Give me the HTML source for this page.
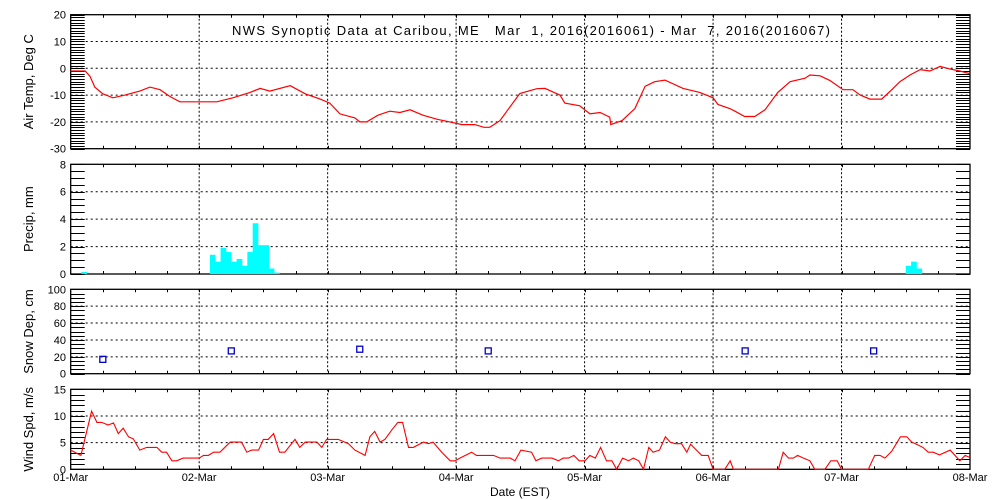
<!DOCTYPE html>
<html><head><meta charset="utf-8">
<style>
html,body{margin:0;padding:0;background:#fff;}
svg{display:block;font-family:"Liberation Sans",sans-serif;}
</style></head>
<body>
<svg id="chart" width="1000" height="500" viewBox="0 0 1000 500">
<text x="232" y="35" font-size="13" style="white-space:pre" xml:space="preserve" textLength="598" lengthAdjust="spacing">NWS Synoptic Data at Caribou, ME   Mar  1, 2016(2016061) - Mar  7, 2016(2016067)</text>
<text x="520" y="496" text-anchor="middle" font-size="12">Date (EST)</text>
</svg>
<script>
// Data (time in hours since 01-Mar 00:00 EST)
const dayLabels = ["01-Mar","02-Mar","03-Mar","04-Mar","05-Mar","06-Mar","07-Mar","08-Mar"];
const tempHours = [0,2.7,3.6,4.5,6,7.9,10.1,12.9,14.8,16.7,18.5,20.4,23.2,27.3,30.3,33.5,35.4,37.2,41,43.8,46.6,48.4,50.3,53.1,54,55.3,57.4,59.6,61.5,63.4,65.8,68.4,70.8,73.1,75.5,77.2,78.3,80.2,83.9,87.1,88.6,91.4,92.3,95.1,97,98.9,100.7,100.9,103,105.4,107.3,109.1,111,114.4,117.5,120,120.9,123.1,124.1,125.9,127.8,129.7,132.1,134.4,137.2,138.1,140,141.8,144.3,146.1,147.5,149.3,151.5,153.4,154.9,156.8,158.7,160.5,162.4,164.3,166.1,168];
const tempValues = [-1,-1,-3,-7,-9.5,-11,-10,-8.5,-7,-8,-10.5,-12.5,-12.5,-12.5,-11,-9,-7.5,-8.5,-6.5,-9.5,-11.5,-13,-17,-18.5,-20,-20,-17.5,-16,-16.5,-15.5,-17.5,-19,-20,-21,-21,-22,-22,-19.5,-9.4,-7.6,-7.5,-10,-13,-14,-17,-16.5,-18.2,-21,-19.5,-15,-6.7,-5,-4.4,-7.5,-9,-11,-13.5,-15,-16,-18,-18,-15.5,-9,-5,-3.7,-2.5,-2.8,-4.5,-8,-8,-10,-11.5,-11.5,-8,-5,-2.5,-0.5,-1,0.7,-0.3,-1,-2];
const precipHours = [2,26,27,28,29,30,31,32,33,34,35,36,37,38,156,157,158];
const precipValues = [0.15,1.4,0.9,1.9,1.6,0.9,1.1,0.6,1.6,3.7,2.1,2.1,0.4,0.1,0.6,0.9,0.4];
const snowHours = [6,30,54,78,126,150];
const snowValues = [17,27,29,27,27,27];
const windHours = [0,1.9,3.9,4.9,5.8,7,8,8.9,9.8,10.8,11.7,12.9,14.2,16.1,17,17.9,18.9,19.8,21,24,24.8,25.7,26.7,27.9,29.8,31.9,32.9,33.8,35.1,36,36.9,37.9,39,40,41.9,42.8,43.8,46,46.9,47.8,50,51.9,53.1,55,55.9,56.8,57.8,58.7,60,61.1,62,63.1,64,65.9,66.8,67.7,69.3,70.9,71.8,72.7,74.9,75.8,79,80.2,82.1,83,84.1,86.1,86.9,88,89.9,91.1,92,93,94,95,96.1,97,98,99,100.1,101.1,102,103.1,104.2,105.1,106.1,107,108,108.8,110,111.1,112,112.9,114.1,115.1,115.8,116.9,117.9,119.1,120,122.2,123.2,123.8,132.2,133.1,134.1,135,135.8,136.9,138.1,139,140.9,142,143.2,144,149,150.2,151.2,152.1,153.4,155,156.2,157.1,158,159.2,160.2,161.1,162.3,164.3,166.1,167.1,168];
const windValues = [3.6,2.6,10.9,8.8,8.8,8.3,8.7,6.7,7.7,6.1,5.7,3.6,4.1,4.1,3.2,3.2,1.6,1.6,2.1,2.1,2.6,2.6,3.2,3.2,5.1,5.1,3.2,3.6,3.6,5.6,5.6,6.7,3.2,3.2,5.6,4.1,5.1,5.1,4.1,5.6,5.6,4.8,3.6,2.6,6.1,7.1,5.1,5.6,7.4,8.8,8.8,4.1,4.1,5.1,4.8,5.1,3.2,1.6,1.6,2.1,3.2,2.6,2.6,2.1,2.1,1.6,3.6,3.2,1.6,2.1,2.1,1.6,2.1,2.1,2.6,1.6,1.6,2.6,2.1,4.1,1.6,1.6,0,2.1,1.6,2.1,1.6,0,4.1,3.2,3.6,6.1,5.1,4.8,4.8,3.2,4.7,3.6,2.6,2.6,0,0,1.6,0,0,3.2,2.1,2.1,2.6,2.1,1.6,0,0,1.6,1.6,0,0,2.6,2.6,2.1,3.4,6.1,6.1,5.1,4.7,4.1,3.2,3.2,2.7,3.6,1.6,2.6,2.2];

const NS="http://www.w3.org/2000/svg";
const svg=document.getElementById('chart');
const X0=70.7, X1=970;
function xScale(h){return X0+(X1-X0)*h/168;}
function mk(tag,attrs,parent){const e=document.createElementNS(NS,tag);for(const k in attrs)e.setAttribute(k,attrs[k]);(parent||svg).appendChild(e);return e;}

const panels=[
 {key:"temp",top:14.7,bot:148.7,min:-30,max:20,major:10,minor:1,label:"Air Temp, Deg C",ticks:[-30,-20,-10,0,10,20]},
 {key:"precip",top:164.3,bot:274,min:0,max:8,major:2,minor:0.5,label:"Precip, mm",ticks:[0,2,4,6,8]},
 {key:"snow",top:289.3,bot:373.7,min:0,max:100,major:20,minor:5,label:"Snow Dep, cm",ticks:[0,20,40,60,80,100]},
 {key:"wind",top:389.3,bot:469.3,min:0,max:15,major:5,minor:1,label:"Wind Spd, m/s",ticks:[0,5,10,15]}
];
const yScales={};
panels.forEach(p=>{
 const y=v=>p.bot-(v-p.min)/(p.max-p.min)*(p.bot-p.top);
 yScales[p.key]=y;
 const g=mk('g',{});
 
 
 for(let d=1;d<7;d++){const gl=mk('line',{x1:xScale(d*24),x2:xScale(d*24),y1:p.top,y2:p.bot,stroke:'#000','stroke-width':1,'stroke-dasharray':'2,2'},g);
  
  }
 p.ticks.forEach(t=>{if(t>p.min&&t<p.max){const gl=mk('line',{x1:X0,x2:X1,y1:y(t),y2:y(t),stroke:'#000','stroke-width':1,'stroke-dasharray':'2,3'},g);
  
  }});
 let path="";
 for(let v=p.min;v<=p.max+1e-9;v+=p.minor){const yy=Math.round(y(v))+0.5;path+=`M${X0} ${yy}h14M${X1} ${yy}h-14`;}
 for(let h=6;h<168;h+=6){const xx=Math.round(xScale(h))+0.5;path+=`M${xx} ${p.top}v3M${xx} ${p.bot}v-3`;}
 const tk=mk('path',{d:path,stroke:'#000','stroke-width':1,fill:'none'},g);
 
 
 const fr=mk('rect',{x:X0,y:p.top,width:X1-X0,height:p.bot-p.top,fill:'none',stroke:'#000','stroke-width':1.3},g);
 
 
 p.ticks.forEach(t=>{const tl=mk('text',{x:66,y:y(t)+4,'text-anchor':'end','font-size':11},g);tl.textContent=t;
  
  });
 const cy=(p.top+p.bot)/2;
 const yl=mk('text',{x:0,y:0,'text-anchor':'middle','font-size':13,transform:`translate(33 ${cy}) rotate(-90)`},g);
 yl.textContent=p.label;
 
 
});
dayLabels.forEach((l,i)=>{const t=mk('text',{x:xScale(i*24),y:481,'text-anchor':'middle','font-size':11});t.textContent=l;
 
 });
{const y=yScales.temp;const d=tempHours.map((h,i)=>(i?'L':'M')+xScale(h).toFixed(1)+' '+y(tempValues[i]).toFixed(1)).join('');
 const l=mk('path',{d,stroke:'#f00','stroke-width':1.2,fill:'none'});
 
 }
{const y=yScales.precip;precipHours.forEach((h,i)=>{const x=xScale(h),w=xScale(h+1)-x;
 const b=mk('rect',{x:x,y:y(precipValues[i]),width:w+0.3,height:y(0)-y(precipValues[i]),fill:'#00ffff'});
 
 });}
{const y=yScales.snow;snowHours.forEach((h,i)=>{
 const m=mk('rect',{x:xScale(h)-3,y:y(snowValues[i])-3,width:6,height:6,fill:'none',stroke:'#0000cc','stroke-width':1.3});
 
 });}
{const y=yScales.wind;const d=windHours.map((h,i)=>(i?'L':'M')+xScale(h).toFixed(1)+' '+y(windValues[i]).toFixed(1)).join('');
 const l=mk('path',{d,stroke:'#f00','stroke-width':1.1,fill:'none'});
 
 }
</script>
</body></html>
